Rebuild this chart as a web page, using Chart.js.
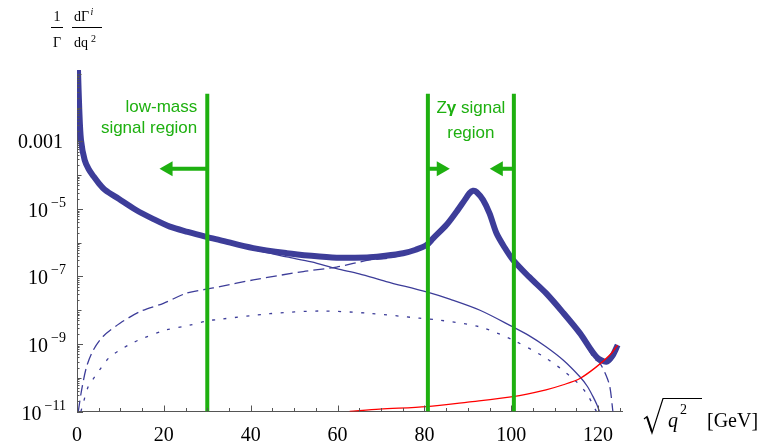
<!DOCTYPE html>
<html>
<head>
<meta charset="utf-8">
<script src="https://cdn.jsdelivr.net/npm/chart.js@4.4.1/dist/chart.umd.min.js"></script>
<style>
  html, body { margin: 0; padding: 0; background: #fff; }
  #wrap { width: 761px; height: 441px; }
</style>
</head>
<body>
<div id="wrap"><canvas id="rateChart"></canvas></div>
<script>
// values, x = sqrt(q^2) in GeV, y = (1/Gamma) dGamma^i/dq^2

// total rate (thick line)
const xTotal = [0.23, 0.53, 0.92, 1.77, 2.7, 3.85, 5.1, 6.52, 9.6, 13.5, 17.5, 21.4, 25.5, 29.8, 32.9, 40.6, 48.3, 54, 59.8, 64, 67.4, 71, 75.1, 78, 80.5, 82, 85.1, 87.4, 89.3, 90.4, 91.2, 92, 93.5, 95, 96.6, 98.5, 100.4, 104, 108, 112, 115.8, 119.6, 121.9, 123.3, 124.5];
const yTotal = [1.31e-1, 8.5e-3, 1.1e-3, 2.8e-4, 1.5e-4, 9.1e-5, 5.6e-5, 3.6e-5, 2.0e-5, 9.5e-6, 5.1e-6, 3.0e-6, 2.1e-6, 1.5e-6, 1.2e-6, 6.9e-7, 4.9e-7, 4.1e-7, 3.6e-7, 3.6e-7, 3.7e-7, 4.1e-7, 4.9e-7, 6.2e-7, 8.5e-7, 1.35e-6, 3.4e-6, 8.3e-6, 1.86e-5, 2.95e-5, 3.45e-5, 3.2e-5, 1.86e-5, 7.4e-6, 1.9e-6, 7.1e-7, 3.1e-7, 1.0e-7, 3.2e-8, 8.3e-9, 2.1e-9, 4.2e-10, 3.0e-10, 4.5e-10, 9.3e-10];

// photon part (thin solid)
const xPhoton = [0.23, 0.53, 0.92, 1.77, 2.7, 3.85, 5.1, 6.52, 9.6, 13.5, 17.5, 21.4, 25.5, 29.8, 32.9, 40.6, 48.3, 54, 59.8, 65, 71.2, 80.5, 86, 92.8, 100.4, 104, 108, 112, 115.8, 117.5, 118.8, 119.7, 120.3];
const yPhoton = [1.31e-1, 8.5e-3, 1.1e-3, 2.8e-4, 1.5e-4, 9.1e-5, 5.6e-5, 3.6e-5, 2.0e-5, 9.5e-6, 5.1e-6, 3.0e-6, 2.05e-6, 1.45e-6, 1.15e-6, 6.2e-7, 3.8e-7, 2.7e-7, 1.7e-7, 1.2e-7, 7.1e-8, 3.5e-8, 2.1e-8, 1.0e-8, 3.2e-9, 1.8e-9, 8.3e-10, 3.3e-10, 1.07e-10, 5.6e-11, 2.8e-11, 1.6e-11, 1e-11];

// Z part (dashed)
const xZ = [0.3, 1.07, 2.2, 3.75, 6.05, 9.9, 14.5, 19.9, 25.2, 29.8, 32.9, 40.6, 52.1, 59.8, 67.4, 71, 75.1, 80.5, 82, 85.1, 87.4, 89.3, 90.4, 91.2, 92, 93.5, 95, 96.6, 98.5, 100.4, 104, 108, 112, 115.8, 119, 120.4, 121.8, 122.7, 123.4];
const yZ = [1e-11, 4.4e-11, 2.1e-10, 6.6e-10, 1.7e-9, 4.1e-9, 9.1e-9, 1.6e-8, 3.2e-8, 4.2e-8, 5.0e-8, 7.9e-8, 1.4e-7, 1.9e-7, 3.1e-7, 3.4e-7, 4.4e-7, 8.1e-7, 1.3e-6, 3.35e-6, 8.2e-6, 1.85e-5, 2.94e-5, 3.44e-5, 3.19e-5, 1.85e-5, 7.35e-6, 1.88e-6, 6.95e-7, 3.0e-7, 9.6e-8, 3.0e-8, 7.8e-9, 1.95e-9, 3.8e-10, 2.7e-10, 1.2e-10, 5.4e-11, 1e-11];

// interference (dotted)
const xInterf = [0.9, 1.45, 2.6, 4.1, 5.7, 7.6, 9.9, 12.6, 15.3, 20.5, 25.9, 29.8, 32.9, 44.4, 55.9, 67.4, 78.9, 83.5, 92.8, 100.4, 108, 114.2, 117.3, 119.6];
const yInterf = [1e-11, 1.8e-11, 5.5e-11, 1.07e-10, 2.1e-10, 4.2e-10, 6.6e-10, 1.05e-9, 1.5e-9, 2.6e-9, 3.6e-9, 4.8e-9, 5.4e-9, 7.9e-9, 9.5e-9, 8.1e-9, 5.8e-9, 5.1e-9, 3.2e-9, 1.3e-9, 3.8e-10, 9.5e-11, 3.5e-11, 1e-11];

// red curve
const xRed = [62.8, 69.7, 80.5, 90, 100.4, 108, 112, 115.8, 119.6, 122.7, 124.5];
const yRed = [1e-11, 1.17e-11, 1.4e-11, 1.9e-11, 2.75e-11, 4.4e-11, 6.2e-11, 9.5e-11, 2.1e-10, 4.7e-10, 9.3e-10];

// signal region cuts and arrows
const lowMassCut = 30;
const zWindow = [80.8, 100.6];
const cutTop = 2.6e-2;
const arrowLevel = 1.55e-4;
const arrowEnds = [21.0, 83.85, 97.05];

// axes
const xRange = [0, 125.5];
const yRange = [1e-11, 0.131];
const xTickValues = [0, 5, 10, 15, 20, 25, 30, 35, 40, 45, 50, 55, 60, 65, 70, 75, 80, 85, 90, 95, 100, 105, 110, 115, 120, 125];
const xLabelTicks = [0, 20, 40, 60, 80, 100, 120];
const yDecades = [-11, -10, -9, -8, -7, -6, -5, -4, -3, -2, -1];
const yMinor = [2, 3, 4, 5, 6, 7, 8, 9];
const yLabelValues = [1e-11, 1e-9, 1e-7, 1e-5, 1e-3];
const yLabelTexts = ['10^\u221211', '10^\u22129', '10^\u22127', '10^\u22125', '0.001'];

const blue = 'rgb(61,61,153)';
const green = 'rgb(30,176,16)';
const serif = '"Liberation Serif", "DejaVu Serif", serif';
const sans = '"Liberation Sans", Arial, sans-serif';

const pts = (xs, ys) => xs.map((x, i) => ({x: x, y: ys[i]}));

function curve(data, color, width, dash) {
    return {
        data: data,
        borderColor: color,
        borderWidth: width,
        borderDash: dash || [],
        pointRadius: 0,
        fill: false,
        tension: 0.3,
        borderJoinStyle: 'round',
        clip: 0
    };
}

function cutLine(x) {
    return {
        data: [{x: x, y: yRange[0]}, {x: x, y: cutTop}],
        borderColor: green, borderWidth: 4, pointRadius: 0, clip: 0
    };
}

function arrow(from, to, rot) {
    return {
        data: [{x: from, y: arrowLevel}, {x: to, y: arrowLevel}],
        borderColor: green, borderWidth: 4,
        pointRadius: [0, 8.7], pointStyle: 'triangle', pointRotation: [0, rot],
        pointBackgroundColor: green, pointBorderWidth: 0, clip: 0
    };
}

// axis ticks (drawn inward), y labels, titles and region captions
const decorations = {
    id: 'decorations',
    afterDraw(chart) {
        const {ctx, chartArea: a, scales: {x, y}} = chart;
        ctx.save();

        // tick marks
        ctx.strokeStyle = '#555';
        ctx.lineWidth = 1;
        ctx.beginPath();
        x.ticks.forEach(t => {
            const px = Math.round(x.getPixelForValue(t.value)) + 0.5;
            const len = xLabelTicks.includes(t.value) ? 6 : 3.5;
            ctx.moveTo(px, a.bottom);
            ctx.lineTo(px, a.bottom - len);
        });
        y.ticks.forEach(t => {
            const py = Math.round(y.getPixelForValue(t.value)) + 0.5;
            const lg = Math.log10(t.value);
            const isDecade = Math.abs(lg - Math.round(lg)) < 1e-6;
            const labelled = yLabelValues.some(v => Math.abs(Math.log10(v) - lg) < 1e-6);
            const len = labelled ? 6 : (isDecade ? 4.5 : 2.5);
            ctx.moveTo(a.left, py);
            ctx.lineTo(a.left + len, py);
        });
        ctx.stroke();

        // y tick labels
        ctx.fillStyle = '#000';
        ctx.textBaseline = 'alphabetic';
        yLabelValues.forEach((v, i) => {
            const py = y.getPixelForValue(v);
            const parts = yLabelTexts[i].split('^');
            if (parts.length === 1) {
                ctx.font = '20px ' + serif;
                ctx.textAlign = 'right';
                ctx.fillText(parts[0], 63, py + 7);
            } else {
                ctx.font = '14px ' + serif;
                ctx.textAlign = 'right';
                ctx.fillText(parts[1], 66, py - 2);
                const ew = ctx.measureText(parts[1]).width;
                ctx.font = '20px ' + serif;
                ctx.fillText(parts[0], 66 - ew - 3, py + 8);
            }
        });

        // y title: 1/Gamma dGamma^i/dq^2
        ctx.font = '14px ' + serif;
        ctx.textAlign = 'center';
        ctx.fillText('1', 57, 21);
        ctx.fillText('\u0393', 57, 47);
        ctx.textAlign = 'left';
        ctx.fillText('d\u0393', 74, 21);
        ctx.fillText('dq', 74, 47);
        const wTop = ctx.measureText('d\u0393').width;
        const wBot = ctx.measureText('dq').width;
        ctx.font = 'italic 10px ' + serif;
        ctx.fillText('i', 74 + wTop + 1.5, 15);
        ctx.font = '10px ' + serif;
        ctx.fillText('2', 74 + wBot + 3, 42);
        ctx.strokeStyle = '#000';
        ctx.lineWidth = 1;
        ctx.beginPath();
        ctx.moveTo(51, 27.5); ctx.lineTo(63, 27.5);
        ctx.moveTo(72, 27.5); ctx.lineTo(102, 27.5);
        ctx.stroke();

        // x title: sqrt(q^2) [GeV]
        ctx.lineWidth = 1.2;
        ctx.beginPath();
        ctx.moveTo(644, 419); ctx.lineTo(647, 416.5);
        ctx.lineTo(652, 433); ctx.lineTo(663, 398.5); ctx.lineTo(702, 398.5);
        ctx.stroke();
        ctx.lineWidth = 2;
        ctx.beginPath();
        ctx.moveTo(647, 417); ctx.lineTo(652, 432);
        ctx.stroke();
        ctx.font = 'italic 20px ' + serif;
        ctx.fillText('q', 668, 427);
        const qw = ctx.measureText('q').width;
        ctx.font = '14px ' + serif;
        ctx.fillText('2', 668 + qw + 2, 414);
        ctx.font = '20px ' + serif;
        ctx.fillText('[GeV]', 707, 427);

        // region captions
        ctx.fillStyle = green;
        ctx.font = '17px ' + sans;
        const topPx = y.getPixelForValue(cutTop);
        const lowRight = x.getPixelForValue(lowMassCut) - 10;
        ctx.textAlign = 'right';
        ctx.fillText('low-mass', lowRight, topPx + 18);
        ctx.fillText('signal region', lowRight, topPx + 39);

        const mid = (x.getPixelForValue(zWindow[0]) + x.getPixelForValue(zWindow[1])) / 2;
        const pieces = [['Z', '17px ' + sans], ['\u03b3', 'bold 17px ' + sans], [' signal', '17px ' + sans]];
        let total = 0;
        pieces.forEach(p => { ctx.font = p[1]; total += ctx.measureText(p[0]).width; });
        let cx = mid - total / 2;
        ctx.textAlign = 'left';
        pieces.forEach(p => {
            ctx.font = p[1];
            ctx.fillText(p[0], cx, topPx + 19);
            cx += ctx.measureText(p[0]).width;
        });
        ctx.font = '17px ' + sans;
        ctx.textAlign = 'center';
        ctx.fillText('region', mid, topPx + 44);

        ctx.restore();
    }
};

const ctx = document.getElementById('rateChart').getContext('2d');

const rateChart = new Chart(ctx, {
    type: 'line',
    data: {
        datasets: [
            cutLine(lowMassCut),
            cutLine(zWindow[0]),
            cutLine(zWindow[1]),
            arrow(lowMassCut, arrowEnds[0], -90),
            arrow(zWindow[0], arrowEnds[1], 90),
            arrow(zWindow[1], arrowEnds[2], -90),
            curve(pts(xRed, yRed), 'rgb(255,0,0)', 1.3),
            curve(pts(xTotal, yTotal), blue, 6),
            curve(pts(xPhoton, yPhoton), blue, 1.3),
            curve(pts(xZ, yZ), blue, 1.3, [11, 5]),
            curve(pts(xInterf, yInterf), blue, 1.3, [3, 8.5])
        ]
    },
    options: {
        responsive: true,
        maintainAspectRatio: false,
        devicePixelRatio: 1,
        animation: false,
        events: [],
        layout: { padding: { left: 0, right: 139, top: 70, bottom: 0 } },
        plugins: { legend: { display: false }, tooltip: { enabled: false } },
        scales: {
            x: {
                type: 'linear',
                min: xRange[0],
                max: xRange[1],
                afterBuildTicks: s => { s.ticks = xTickValues.map(v => ({value: v})); },
                afterFit: s => { s.height = 29.5; },
                grid: { display: false, drawTicks: false },
                border: { display: true, color: '#555', width: 1 },
                ticks: {
                    autoSkip: false,
                    maxRotation: 0,
                    padding: 12,
                    color: '#000',
                    font: { family: serif, size: 20 },
                    callback: v => xLabelTicks.includes(v) ? String(v) : ''
                }
            },
            y: {
                type: 'logarithmic',
                min: yRange[0],
                max: yRange[1],
                afterBuildTicks: s => {
                    const t = [];
                    yDecades.forEach(k => {
                        t.push({value: Number('1e' + k)});
                        yMinor.forEach(m => t.push({value: Number(m + 'e' + k)}));
                    });
                    s.ticks = t.filter(o => o.value <= yRange[1]);
                },
                afterFit: s => { s.width = 77; },
                grid: { display: false, drawTicks: false },
                border: { display: true, color: '#555', width: 1 },
                ticks: { display: false }
            }
        }
    },
    plugins: [decorations]
});
</script>
</body>
</html>
